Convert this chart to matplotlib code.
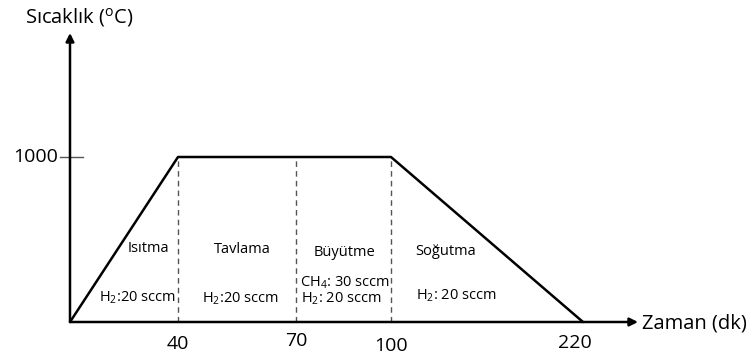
import numpy as np
import matplotlib
matplotlib.use("Agg")
import matplotlib.pyplot as plt

FONT = "Open Sans"
plt.rcParams["font.family"] = [FONT, "DejaVu Sans"]
plt.rcParams["mathtext.fontset"] = "custom"
plt.rcParams["mathtext.rm"] = FONT
plt.rcParams["mathtext.it"] = FONT

# Temperature profile (time in minutes, temperature in °C)
time_min = [0, 40, 100, 220]
temp_c = [0, 1000, 1000, 0]

# Stage boundaries and axis tick labels
stage_bounds = [40, 70, 100]
xticks = [40, 70, 100, 220]
yticks = [1000]

# Stage names and gas flows
stages = ["Isıtma", "Tavlama", "Büyütme", "Soğutma"]
gas_lines = [
    ["H$_2$:20 sccm"],
    ["H$_2$:20 sccm"],
    ["CH$_4$: 30 sccm", "H$_2$: 20 sccm"],
    ["H$_2$: 20 sccm"],
]

# Schematic (non-proportional) time axis: breakpoints in minutes -> relative length
knot_t = np.array([0, 40, 70, 100, 220, 260], dtype=float)
knot_p = np.array([0, 108, 226, 321, 513, 568], dtype=float)

def fwd(t):
    return np.interp(t, knot_t, knot_p)

def inv(p):
    return np.interp(p, knot_p, knot_t)

W, H = 753, 358
AW, AH = 568, 289
fig = plt.figure(figsize=(W / 100, H / 100), dpi=100)
ox, oy = 70, 322
ax = fig.add_axes([ox / W, (H - oy) / H, AW / W, AH / H])
ax.set_xscale("function", functions=(fwd, inv))
ax.set_xlim(0, 260)
ax.set_ylim(0, 1000 * AH / 165)
for s in ax.spines.values():
    s.set_visible(False)
ax.set_xticks([])
ax.set_yticks([])

# Axes with arrow heads
arrow = dict(arrowstyle="-|>", color="black", lw=1.8, mutation_scale=12,
             shrinkA=0, shrinkB=0)
ax.annotate("", xy=(1.0, 0), xytext=(0, 0), xycoords="axes fraction",
            arrowprops=arrow, annotation_clip=False)
ax.annotate("", xy=(0, 1.0), xytext=(0, 0), xycoords="axes fraction",
            arrowprops=arrow, annotation_clip=False)

# Temperature profile
ax.plot(time_min, temp_c, color="black", lw=1.8, solid_capstyle="round", clip_on=False)

# Stage boundaries
for b in stage_bounds:
    ax.plot([b, b], [0, 1000], color="#555555", lw=1.0, ls=(0, (4, 3)))

# y tick mark crossing the axis, and its label
ytr = ax.get_yaxis_transform()
for yv in yticks:
    ax.plot([-10 / AW, 13 / AW], [yv, yv], color="#555555", lw=1.0,
            transform=ytr, clip_on=False)
    ax.text(-12 / AW, yv, str(yv), ha="right", va="center", fontsize=14,
            transform=ytr)

# x tick labels (hand-placed, slightly uneven baselines)
xlabel_x = [40, 70, 100, 215]
xlabel_y = [-133, -115, -145, -127]
for xv, lx, ly in zip(xticks, xlabel_x, xlabel_y):
    ax.text(lx, ly, str(xv), ha="center", va="center", fontsize=14, clip_on=False)

# Axis titles
fig.text(25 / W, 1 - 18 / H, "Sıcaklık ($^{\\mathrm{o}}$C)", ha="left", va="center",
         fontsize=14.5)
fig.text(642 / W, 1 - 323 / H, "Zaman (dk)", ha="left", va="center", fontsize=14.5)

# Stage names and gas flows
name_x = [28.9, 56.3, 85.3, 115]
name_y = [448, 442, 424, 430]
name_ha = ["center", "center", "center", "left"]
gas_x = [[25], [55.9], [85.4, 84.3], [115.6]]
gas_y = [[145], [139], [236, 139], [158]]
gas_ha = ["center", "center", "center", "left"]
fs = 10.5
for i, name in enumerate(stages):
    ax.text(name_x[i], name_y[i], name, ha=name_ha[i], va="center", fontsize=fs)
    for ln, gx, gy in zip(gas_lines[i], gas_x[i], gas_y[i]):
        ax.text(gx, gy, ln, ha=gas_ha[i], va="center", fontsize=fs)

fig.savefig("out.png", dpi=100, facecolor="white")
